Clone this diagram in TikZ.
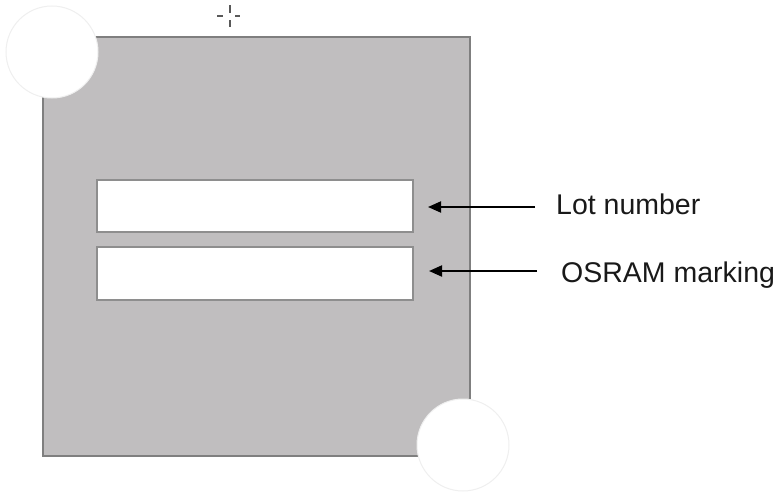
\documentclass[tikz,border=0pt]{standalone}
\usepackage{fontspec}
\setmainfont{Liberation Sans}
\usetikzlibrary{arrows.meta}
\definecolor{chipfill}{HTML}{C0BEBF}
\definecolor{chipedge}{HTML}{7F7F7F}
\definecolor{boxedge}{HTML}{8E8E8E}
\definecolor{circedge}{HTML}{EFEFEF}
\tikzset{
  chip/.style={fill=chipfill,draw=chipedge,line width=2pt},
  labelbox/.style={fill=white,draw=boxedge,line width=2pt},
  pad/.style={fill=white,draw=circedge,line width=1pt},
  pointer/.style={-{Triangle[length=13pt,width=11pt]},line width=2pt,black},
  lbl/.style={anchor=base west,inner sep=0pt,font=\fontsize{28.5}{32}\selectfont,text=black!90},
  cursor/.style={line width=1.5pt,draw=black!65}
}
\begin{document}
\begin{tikzpicture}[x=1pt,y=-1pt]
\useasboundingbox (0,0) rectangle (781,492);
\path[chip] (43,37) rectangle (470,456);
\node[labelbox,minimum width=316pt,minimum height=52pt,inner sep=0pt,anchor=north west] (lot) at (96,179) {};
\node[labelbox,minimum width=316pt,minimum height=53pt,inner sep=0pt,anchor=north west] (osram) at (96,246) {};
\node[pad,circle,minimum size=92pt,inner sep=0pt] (padA) at (52,52) {};
\node[pad,circle,minimum size=92pt,inner sep=0pt] (padB) at (463,445) {};
\node[lbl] (lottext) at (556,214) {Lot number};
\node[lbl] (osramtext) at (561,282) {OSRAM marking};
\coordinate (lotstart) at (535,207);
\coordinate (lotend) at (428,207);
\coordinate (osstart) at (537,271);
\coordinate (osend) at (429,271);
\draw[pointer] (lotstart) -- (lotend);
\draw[pointer] (osstart) -- (osend);
% cursor artifact
\coordinate (cur) at (230,16);
\draw[cursor] ([xshift=-13pt]cur) -- ([xshift=-7pt]cur);
\draw[cursor] ([xshift=5pt]cur) -- ([xshift=10pt]cur);
\draw[cursor] ([yshift=-11pt]cur) -- ([yshift=-4pt]cur);
\draw[cursor] ([yshift=3pt]cur) -- ([yshift=11pt]cur);
\end{tikzpicture}
\end{document}
